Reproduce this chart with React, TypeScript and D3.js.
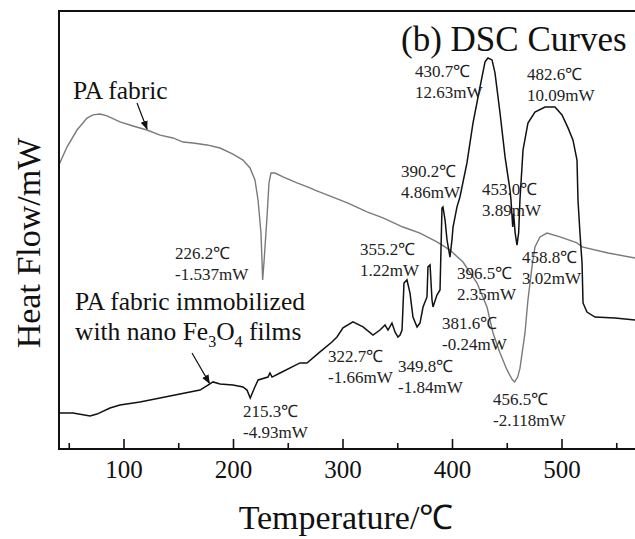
import React, { useRef, useEffect } from 'react';
import * as d3 from 'd3';

// temperature (℃) / heat flow (mW, shared display scale)
const paFabric: [number, number][] = [
  [40.6, 7.11], [47.9, 8.03], [57.1, 8.91], [66.2, 9.53], [71.7, 9.69], [78.1, 9.74],
  [84.5, 9.64], [96.3, 9.33], [108.2, 9.12], [121.0, 8.91], [132.9, 8.65], [144.7, 8.5],
  [153.9, 8.29], [163.0, 8.24], [175.8, 8.14], [187.7, 7.98], [199.5, 7.67], [208.7, 7.36],
  [215.1, 6.95], [219.6, 6.33], [222.4, 5.3], [225.1, 3.59], [226.0, 2.2], [226.6, 1.17],
  [228.0, 2.2], [230.6, 4.42], [232.4, 6.18], [234.2, 6.69], [237.9, 6.69], [245.2, 6.49],
  [258.0, 6.18], [269.9, 5.92], [274.4, 5.81], [304.6, 5.14], [321.9, 4.68], [336.5, 4.37],
  [354.8, 3.9], [370.3, 3.59], [385.8, 3.13], [397.7, 2.71], [409.6, 2.09], [422.4, 1.01],
  [431.5, -0.23], [437.0, -1.57], [443.4, -2.61], [449.8, -3.48], [454.5, -3.98], [456.8, -4.1],
  [459.5, -3.85], [461.6, -3.4], [466.2, -1.57], [468.9, 0.13], [472.6, 1.84], [475.3, 2.87],
  [479.9, 3.39], [486.3, 3.59], [498.2, 3.39], [513.7, 3.08], [518.3, 2.87], [542.0, 2.56],
  [566.7, 2.3]
];

const paFe3O4: [number, number][] = [
  [40.6, -5.7], [53.4, -5.7], [69.0, -5.86], [75.3, -5.76], [87.2, -5.45], [96.3, -5.29],
  [114.6, -5.14], [132.9, -4.93], [151.1, -4.72], [169.4, -4.52], [176.7, -4.26], [181.3, -4.1],
  [187.7, -4.21], [199.5, -4.26], [208.7, -4.36], [212.3, -4.52], [215.3, -4.93], [219.5, -4.36],
  [222.5, -4.0], [231.5, -3.85], [233.3, -3.64], [235.2, -3.85], [242.5, -3.64], [260.7, -3.12],
  [267.1, -3.12], [279.0, -2.55], [289.9, -2.04], [294.5, -1.78], [300.0, -1.31], [309.1, -1.0],
  [318.3, -1.26], [327.4, -1.68], [333.8, -1.42], [338.4, -1.16], [341.1, -1.42], [344.7, -1.06],
  [347.5, -1.52], [350.2, -1.78], [352.1, -1.68], [353.9, -1.42], [355.7, 1.01], [358.4, 1.17],
  [361.2, 0.49], [363.9, -0.75], [367.6, -1.26], [370.3, -1.06], [373.1, -0.23], [376.7, 0.29],
  [377.6, 1.84], [379.5, 1.94], [381.3, 0.13], [382.2, -0.23], [385.8, 0.39], [388.6, 0.65],
  [390.4, 4.88], [391.3, 4.94], [393.2, 4.26], [395.0, 3.23], [397.7, 2.35], [399.5, 3.23],
  [400.5, 3.9], [404.1, 4.94], [406.8, 5.45], [413.2, 7.21], [418.7, 9.27], [425.1, 11.13],
  [429.7, 12.43], [432.4, 12.63], [436.1, 12.53], [438.8, 11.86], [443.4, 9.79], [448.0, 7.52],
  [452.5, 5.81], [453.4, 5.3], [455.0, 3.9], [455.8, 4.6], [457.2, 3.6], [458.9, 2.97],
  [460.4, 3.6], [461.6, 5.3], [464.4, 7.88], [468.9, 9.27], [475.3, 9.84], [484.5, 10.1],
  [493.6, 10.1], [500.0, 9.69], [505.5, 9.02], [510.0, 8.4], [513.7, 7.36], [514.6, 5.3],
  [516.4, 3.59], [518.3, 2.04], [519.2, -0.02], [522.8, -0.49], [530.1, -0.75], [548.4, -0.8],
  [566.7, -0.9]
];

const majorTicks = [100, 200, 300, 400, 500];
const minorTicks = [50, 150, 250, 350, 450, 550];

const peakTemps = ['226.2℃', '215.3℃', '322.7℃', '349.8℃', '355.2℃', '390.2℃', '430.7℃',
  '482.6℃', '453.0℃', '396.5℃', '381.6℃', '458.8℃', '456.5℃'];
const peakFlows = ['-1.537mW', '-4.93mW', '-1.66mW', '-1.84mW', '1.22mW', '4.86mW', '12.63mW',
  '10.09mW', '3.89mW', '2.35mW', '-0.24mW', '3.02mW', '-2.118mW'];

// left / first baseline of each two-line label, in px
const labelPos = [
  [175, 259], [243, 417], [328, 362], [398, 372], [360, 255], [401, 177], [415, 77],
  [527, 80], [482, 195], [457, 279], [442, 329], [522, 263], [493, 405]
];

const FONT = "'Liberation Serif', 'Times New Roman', serif";

export default function App() {
  const svgRef = useRef<SVGSVGElement>(null);

  useEffect(() => {
    const W = 635, H = 539;
    const frame = { left: 59, top: 11, right: 640, bottom: 449 };

    const svg = d3.select(svgRef.current).attr('width', W).attr('height', H);
    svg.selectAll('*').remove();

    const x = d3.scaleLinear().domain([100, 500]).range([124, 562]);
    const y = d3.scaleLinear().domain([-4.93, 12.63]).range([398, 58]);

    svg.append('rect').attr('width', W).attr('height', H).attr('fill', '#fff');

    const defs = svg.append('defs');
    defs.append('clipPath').attr('id', 'plot-clip')
      .append('rect')
      .attr('x', frame.left).attr('y', frame.top)
      .attr('width', frame.right - frame.left).attr('height', frame.bottom - frame.top);
    defs.append('marker')
      .attr('id', 'arrow').attr('viewBox', '0 0 10 10')
      .attr('refX', 9).attr('refY', 5)
      .attr('markerWidth', 9).attr('markerHeight', 9)
      .attr('markerUnits', 'userSpaceOnUse')
      .attr('orient', 'auto')
      .append('path').attr('d', 'M0,1 L10,5 L0,9 Z').attr('fill', '#111');

    const line = d3.line<[number, number]>()
      .x(d => x(d[0]))
      .y(d => y(d[1]));

    const plot = svg.append('g').attr('clip-path', 'url(#plot-clip)');
    plot.append('path').datum(paFabric)
      .attr('d', line).attr('fill', 'none')
      .attr('stroke', '#7a7a7a').attr('stroke-width', 1.4);
    plot.append('path').datum(paFe3O4)
      .attr('d', line).attr('fill', 'none')
      .attr('stroke', '#111').attr('stroke-width', 1.5);

    // frame: left, top, bottom
    const axisG = svg.append('g').attr('stroke', '#111').attr('stroke-width', 2);
    axisG.append('line').attr('x1', frame.left).attr('x2', frame.left)
      .attr('y1', frame.top).attr('y2', frame.bottom);
    axisG.append('line').attr('x1', frame.left - 1).attr('x2', frame.right)
      .attr('y1', frame.top).attr('y2', frame.top);
    axisG.append('line').attr('x1', frame.left - 1).attr('x2', frame.right)
      .attr('y1', frame.bottom).attr('y2', frame.bottom);

    axisG.selectAll('line.major').data(majorTicks).enter().append('line')
      .attr('class', 'major').attr('stroke-width', 1.6)
      .attr('x1', d => x(d)).attr('x2', d => x(d))
      .attr('y1', frame.bottom).attr('y2', frame.bottom - 10);
    axisG.selectAll('line.minor').data(minorTicks).enter().append('line')
      .attr('class', 'minor').attr('stroke-width', 1.6)
      .attr('x1', d => x(d)).attr('x2', d => x(d))
      .attr('y1', frame.bottom).attr('y2', frame.bottom - 6);

    svg.selectAll('text.tick').data(majorTicks).enter().append('text')
      .attr('class', 'tick')
      .attr('x', d => x(d)).attr('y', 478)
      .attr('text-anchor', 'middle')
      .style('font-family', FONT).style('font-size', '25px')
      .attr('fill', '#111')
      .text(d => d);

    // axis titles
    svg.append('text')
      .attr('x', 346).attr('y', 529)
      .attr('text-anchor', 'middle')
      .style('font-family', FONT).style('font-size', '34px')
      .attr('fill', '#111')
      .text('Temperature/℃');
    svg.append('text')
      .attr('transform', 'translate(40,243) rotate(-90)')
      .attr('text-anchor', 'middle')
      .style('font-family', FONT).style('font-size', '34px')
      .attr('fill', '#111')
      .text('Heat Flow/mW');

    // title
    svg.append('text')
      .attr('x', 401).attr('y', 51)
      .style('font-family', FONT).style('font-size', '35px')
      .attr('fill', '#111')
      .text('(b) DSC Curves');

    // peak labels
    const labels = svg.append('g')
      .style('font-family', FONT).style('font-size', '17px').attr('fill', '#222');
    peakTemps.forEach((t, i) => {
      const [lx, ly] = labelPos[i];
      labels.append('text').attr('x', lx).attr('y', ly).text(t);
      labels.append('text').attr('x', lx).attr('y', ly + 21).text(peakFlows[i]);
    });

    // series labels with arrows
    const at = (data: [number, number][], t: number) => {
      const i = d3.bisector((d: [number, number]) => d[0]).left(data, t);
      const a = data[Math.max(0, i - 1)], b = data[i];
      const k = (t - a[0]) / (b[0] - a[0] || 1);
      return [x(t), y(a[1] + k * (b[1] - a[1]))];
    };

    const seriesFont = '25.5px';
    svg.append('text')
      .attr('x', 73).attr('y', 99)
      .style('font-family', FONT).style('font-size', seriesFont).attr('fill', '#111')
      .text('PA fabric');
    const tip1 = at(paFabric, 121);
    svg.append('line')
      .attr('x1', 137).attr('y1', 103)
      .attr('x2', tip1[0]).attr('y2', tip1[1] - 1)
      .attr('stroke', '#111').attr('stroke-width', 1.2)
      .attr('marker-end', 'url(#arrow)');

    svg.append('text')
      .attr('x', 75).attr('y', 310)
      .style('font-family', FONT).style('font-size', seriesFont).attr('fill', '#111')
      .text('PA fabric immobilized');
    const t2 = svg.append('text')
      .attr('x', 75).attr('y', 340)
      .style('font-family', FONT).style('font-size', seriesFont).attr('fill', '#111');
    t2.append('tspan').text('with nano Fe');
    t2.append('tspan').attr('dy', 7).style('font-size', '16px').text('3');
    t2.append('tspan').attr('dy', -7).text('O');
    t2.append('tspan').attr('dy', 7).style('font-size', '16px').text('4');
    t2.append('tspan').attr('dy', -7).text(' films');
    const tip2 = at(paFe3O4, 178);
    svg.append('line')
      .attr('x1', 192).attr('y1', 353)
      .attr('x2', tip2[0]).attr('y2', tip2[1] - 1)
      .attr('stroke', '#111').attr('stroke-width', 1.2)
      .attr('marker-end', 'url(#arrow)');
  }, []);

  return (
    <div style={{ position: 'absolute', left: 0, top: 0 }}>
      <svg ref={svgRef} style={{ display: 'block' }}></svg>
    </div>
  );
}
